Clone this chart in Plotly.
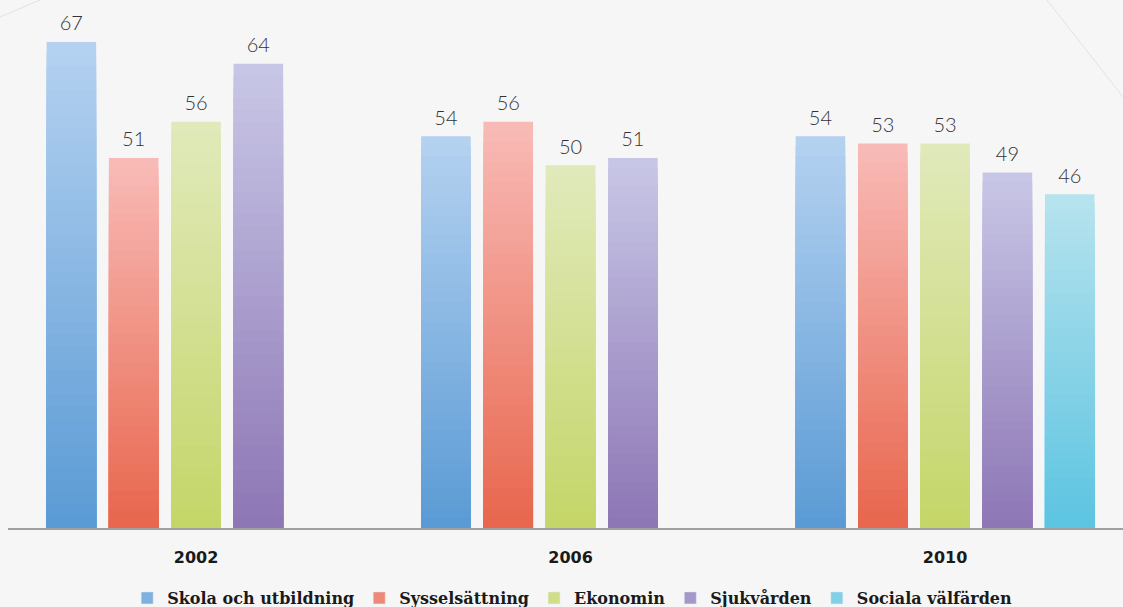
import plotly.graph_objects as go

years = ["2002", "2006", "2010"]
series_names = ["Skola och utbildning", "Sysselsättning", "Ekonomin", "Sjukvården", "Sociala välfärden"]
skola = [67, 54, 54]
syssel = [51, 56, 53]
ekonomi = [56, 50, 53]
sjukvard = [64, 51, 49]
sociala = [None, None, 46]
values = [skola, syssel, ekonomi, sjukvard, sociala]

top_colors = ["#b4d1f0", "#f8bab6", "#e0e9ba", "#c8c6e6", "#b6e3ed"]
bottom_colors = ["#5b9bd5", "#e8674e", "#c5d669", "#8d77b5", "#5dc4e1"]


def hex2rgb(h):
    h = h.lstrip("#")
    return [int(h[i:i + 2], 16) for i in (0, 2, 4)]


def mix(c1, c2, t):
    a, b = hex2rgb(c1), hex2rgb(c2)
    return "rgb(%d,%d,%d)" % tuple(round(a[i] + (b[i] - a[i]) * t) for i in range(3))


N = 40
fig = go.Figure()
for s, name in enumerate(series_names):
    vals = values[s]
    # overlapping layers from full height (top colour) down to shortest (bottom colour)
    for k in range(N):
        frac = (N - k) / N
        t = k / (N - 1)
        seg = [None if v is None else v * frac for v in vals]
        fig.add_trace(go.Bar(
            x=years, y=seg,
            offsetgroup=str(s), alignmentgroup="a",
            legendgroup=name,
            name=name,
            showlegend=False,
            marker=dict(color=mix(top_colors[s], bottom_colors[s], t), line=dict(width=0)),
            textposition="none",
            hoverinfo="skip",
        ))
    # value labels
    fig.add_trace(go.Scatter(
        x=years, y=vals, mode="markers+text",
        offsetgroup=str(s), alignmentgroup="a",
        text=[("" if v is None else str(v)) for v in vals],
        textposition="top center",
        textfont=dict(family="Lato", size=20, color="#333333", weight=300),
        marker=dict(size=9, opacity=0),
        showlegend=False, cliponaxis=False, hoverinfo="skip",
    ))
    # legend entry
    fig.add_trace(go.Bar(
        x=[None], y=[None], name=name, legendgroup=name, showlegend=True,
        marker=dict(color=mix(top_colors[s], bottom_colors[s], 0.6)),
        offsetgroup=str(s), alignmentgroup="a",
    ))

fig.update_layout(
    width=1123, height=607,
    margin=dict(l=8, r=0, t=0, b=79),
    barmode="group",
    scattermode="group",
    bargap=0.168,
    bargroupgap=0.205,
    paper_bgcolor="#f6f6f6",
    plot_bgcolor="rgba(0,0,0,0)",
    showlegend=True,
    legend=dict(
        orientation="h", x=0.506, xanchor="center",
        yref="container", y=0.0148, yanchor="middle",
        font=dict(family="DejaVu Serif", size=16, color="#1a1a1a", weight="bold"),
        itemwidth=30, bgcolor="rgba(0,0,0,0)", tracegroupgap=0,
    ),
    xaxis=dict(
        type="category", range=[-0.502, 2.475],
        showline=True, linecolor="#a0a0a0", linewidth=2,
        showgrid=False, zeroline=False, ticks="",
        tickfont=dict(family="DejaVu Sans", size=16, color="#1a1a1a", weight="bold"),
        ticklabelstandoff=14,
    ),
    yaxis=dict(range=[0, 72.8], visible=False, showgrid=False, zeroline=False),
    shapes=[
        dict(type="line", xref="paper", yref="paper", x0=-8 / 1115, y0=1 - 17 / 528, x1=32 / 1115, y1=1.0,
             line=dict(color="#e2e2e2", width=1), layer="below"),
        dict(type="line", xref="paper", yref="paper", x0=(1047 - 8) / 1115, y0=1.0, x1=1.0, y1=1 - 97 / 528,
             line=dict(color="#e2e2e2", width=1), layer="below"),
    ],
)

fig.write_html(
    "out.html",
    config={"displayModeBar": False},
    post_script="document.body.style.margin='0';document.body.style.background='#f6f6f6';document.body.style.overflow='hidden';",
)
